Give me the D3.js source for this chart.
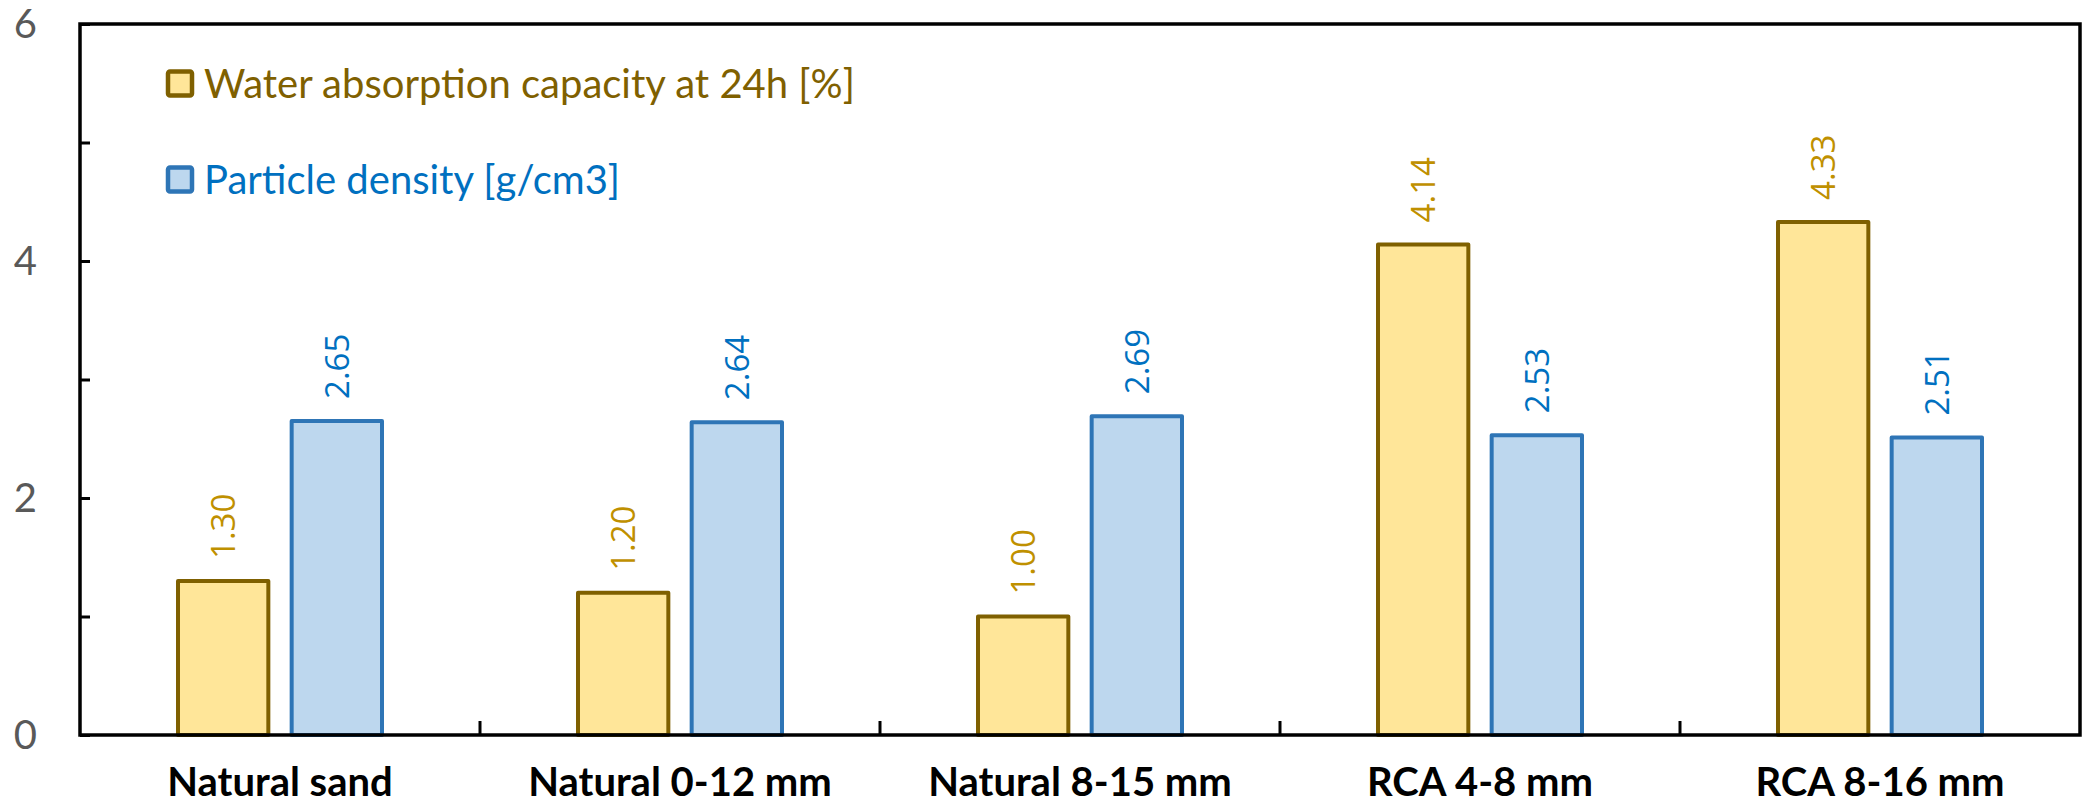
<!DOCTYPE html>
<html>
<head>
<meta charset="utf-8">
<script src="https://cdn.jsdelivr.net/npm/d3@7"></script>
<style>
  body { margin: 0; background: #fff; }
  svg text { font-family: Lato, "Open Sans", sans-serif; }
</style>
</head>
<body>
<div id="chart"></div>
<script>
const categories = ["Natural sand", "Natural 0-12 mm", "Natural 8-15 mm", "RCA 4-8 mm", "RCA 8-16 mm"];
const seriesNames = ["Water absorption capacity at 24h [%]", "Particle density [g/cm3]"];
const absorption = [1.30, 1.20, 1.00, 4.14, 4.33];
const density = [2.65, 2.64, 2.69, 2.53, 2.51];
const yTicks = [0, 1, 2, 3, 4, 5, 6];
const yLabels = [0, 2, 4, 6];

const width = 2090, height = 810;
const margin = { top: 24, right: 10, bottom: 75, left: 80 };

const fills = ["#FFE699", "#BDD7EE"];
const strokes = ["#7F6000", "#2E75B6"];
const labelColors = ["#BF9000", "#0070C0"];
const legendColors = ["#7F6000", "#0070C0"];

const svg = d3.select("#chart").append("svg")
  .attr("width", width)
  .attr("height", height);

const x0 = d3.scaleBand()
  .domain(categories)
  .range([margin.left, width - margin.right]);

const x1 = d3.scaleBand()
  .domain([0, 1])
  .range([96, 304])
  .paddingInner(0.17);

const y = d3.scaleLinear()
  .domain([0, 6])
  .range([height - margin.bottom, margin.top]);

const rows = categories.map((c, i) => ({ cat: c, vals: [absorption[i], density[i]] }));

// bars
const groups = svg.selectAll("g.grp")
  .data(rows)
  .enter()
  .append("g")
  .attr("class", "grp")
  .attr("transform", (d) => `translate(${x0(d.cat)},0)`);

groups.selectAll("rect")
  .data((d) => d.vals.map((v, k) => ({ v, k })))
  .enter()
  .append("rect")
  .attr("x", (d) => x1(d.k) + 2)
  .attr("y", (d) => y(d.v))
  .attr("width", x1.bandwidth() - 4)
  .attr("height", (d) => y(0) - y(d.v))
  .attr("fill", (d) => fills[d.k])
  .attr("stroke", (d) => strokes[d.k])
  .attr("stroke-width", 4)
  .attr("stroke-linejoin", "round");

// value labels
groups.selectAll("text.val")
  .data((d) => d.vals.map((v, k) => ({ v, k })))
  .enter()
  .append("text")
  .attr("class", "val")
  .attr("transform", (d) => `translate(${x1(d.k) + x1.bandwidth() / 2},${y(d.v) - 22}) rotate(-90)`)
  .attr("dy", "0.36em")
  .style("font-family", "'Open Sans', sans-serif")
  .style("font-size", "33px")
  .style("fill", (d) => labelColors[d.k])
  .text((d) => d.v.toFixed(2));

// frame
svg.append("rect")
  .attr("x", margin.left)
  .attr("y", margin.top)
  .attr("width", width - margin.right - margin.left)
  .attr("height", y(0) - margin.top)
  .attr("fill", "none")
  .attr("stroke", "#000")
  .attr("stroke-width", 3.5);

// y axis
const yAxis = svg.append("g")
  .attr("transform", `translate(${margin.left},0)`)
  .call(d3.axisRight(y).tickValues(yTicks).tickSize(10).tickFormat(""));
yAxis.select(".domain").remove();
yAxis.selectAll("line").attr("stroke", "#000").attr("stroke-width", 3);

svg.selectAll("text.ylab")
  .data(yLabels)
  .enter()
  .append("text")
  .attr("class", "ylab")
  .attr("x", 37)
  .attr("y", (d) => y(d))
  .attr("dy", "0.36em")
  .attr("text-anchor", "end")
  .style("font-size", "40px")
  .style("fill", "#595959")
  .text((d) => d);

// x axis ticks between categories
svg.selectAll("line.xtick")
  .data(categories.slice(1))
  .enter()
  .append("line")
  .attr("class", "xtick")
  .attr("x1", (d) => x0(d))
  .attr("x2", (d) => x0(d))
  .attr("y1", y(0))
  .attr("y2", y(0) - 14)
  .attr("stroke", "#000")
  .attr("stroke-width", 3);

svg.selectAll("text.xlab")
  .data(categories)
  .enter()
  .append("text")
  .attr("class", "xlab")
  .attr("x", (d) => x0(d) + x0.bandwidth() / 2)
  .attr("y", 796)
  .attr("text-anchor", "middle")
  .style("font-size", "40px")
  .style("font-weight", "bold")
  .style("fill", "#000")
  .text((d) => d);

// legend
const legend = svg.selectAll("g.leg")
  .data(seriesNames)
  .enter()
  .append("g")
  .attr("class", "leg")
  .attr("transform", (d, i) => `translate(166,${83.5 + i * 96})`);

legend.append("rect")
  .attr("x", 2)
  .attr("y", -12)
  .attr("width", 24)
  .attr("height", 24)
  .attr("rx", 2)
  .attr("fill", (d, i) => fills[i])
  .attr("stroke", (d, i) => strokes[i])
  .attr("stroke-width", 4.5);

legend.append("text")
  .attr("x", 38)
  .attr("dy", "0.36em")
  .style("font-size", "40px")
  .style("fill", (d, i) => legendColors[i])
  .text((d) => d);
</script>
</body>
</html>
